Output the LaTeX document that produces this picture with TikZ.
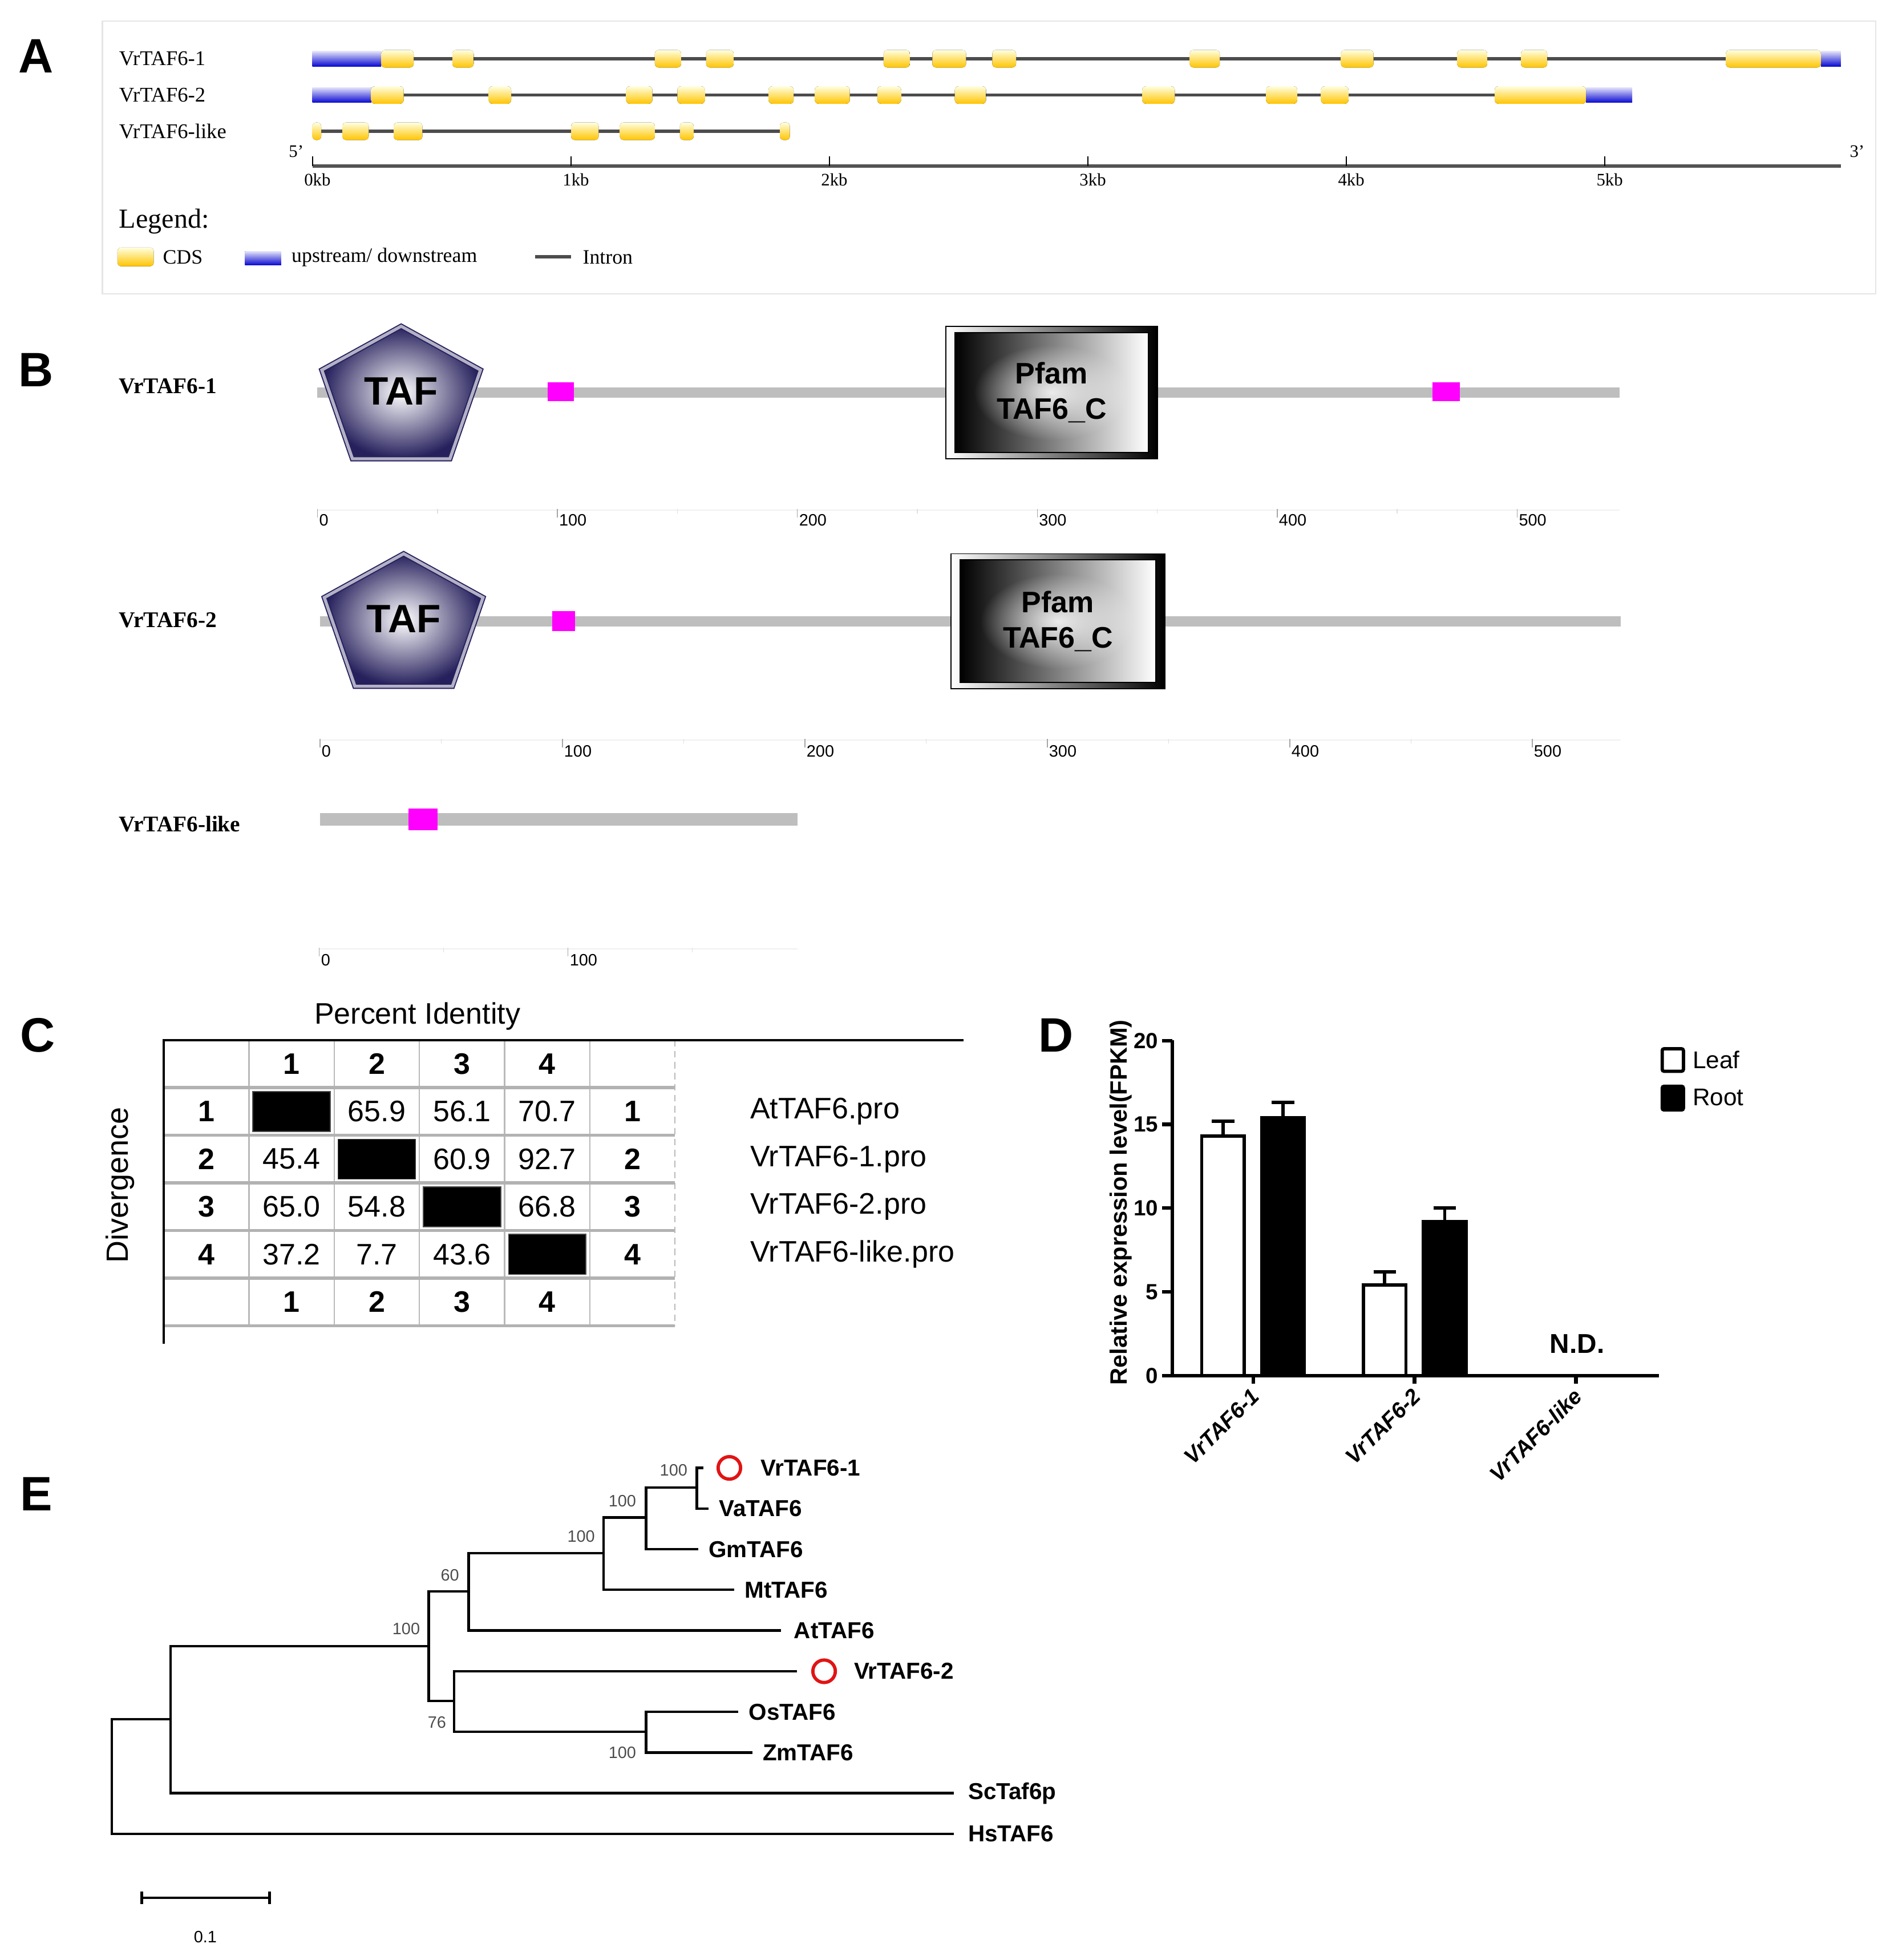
\documentclass[tikz,border=0pt]{standalone}
\usepackage{fontspec}
\setmainfont{Liberation Serif}
\setsansfont{Liberation Sans}
\usetikzlibrary{calc,fadings}
\definecolor{cdsgold}{RGB}{255,196,0}
\definecolor{utrblue}{RGB}{10,10,210}
\definecolor{tafnavy}{RGB}{38,32,92}
\definecolor{motifpink}{RGB}{255,0,255}
\definecolor{protgray}{RGB}{190,190,190}
\definecolor{ringred}{RGB}{225,20,20}
\tikzfading[name=glow, inner color=transparent!15, outer color=transparent!100]

\begin{document}
\begin{tikzpicture}[x=0.2mm, y=-0.2mm,
  panel/.style={inner sep=0pt, font=\sffamily\bfseries\fontsize{22}{22}\selectfont},
  gname/.style={anchor=west, inner sep=0pt, font=\fontsize{9.5}{10}\selectfont},
  kblabel/.style={inner sep=0pt, font=\fontsize{8}{8}\selectfont},
  legtitle/.style={anchor=west, inner sep=0pt, font=\fontsize{12.5}{13}\selectfont},
  legtext/.style={anchor=west, inner sep=0pt, font=\fontsize{9.3}{10}\selectfont},
  intron/.style={draw=gray!60!black, line width=1.4pt},
  cds/.style={rounded corners=0.6mm, top color=yellow!12, bottom color=cdsgold},
  utr/.style={top color=utrblue!12, bottom color=utrblue},
  pname/.style={anchor=west, inner sep=0pt, font=\bfseries\fontsize{10.2}{11}\selectfont},
  protbar/.style={draw=protgray, line width=4.8pt},
  motif/.style={fill=motifpink},
  tafpent/.style={inner color=white, outer color=tafnavy, draw=tafnavy, line width=0.5pt, double=tafnavy!35, double distance=1.4pt},
  tafname/.style={inner sep=0pt, font=\sffamily\bfseries\fontsize{18}{18}\selectfont},
  pfamtext/.style={align=center, inner sep=0pt, font=\sffamily\bfseries\fontsize{13.5}{16.2}\selectfont},
  ruler/.style={draw=gray!12, line width=0.4pt},
  rtick/.style={draw=gray!70, line width=0.4pt},
  mtick/.style={draw=gray!25, line width=0.4pt},
  aalabel/.style={anchor=west, inner sep=0.6pt, font=\sffamily\fontsize{7.5}{8}\selectfont},
  grid/.style={draw=gray!55, line width=0.6pt},
  gridh/.style={draw=gray!60, line width=1.4pt},
  cbold/.style={inner sep=0pt, font=\sffamily\bfseries\fontsize{13.5}{14}\selectfont},
  cnum/.style={inner sep=0pt, font=\sffamily\fontsize{13.5}{14}\selectfont},
  cname/.style={anchor=west, inner sep=0pt, font=\sffamily\fontsize{13.5}{14}\selectfont},
  diag/.style={fill=black, draw=black!70, minimum width=12.4mm, minimum height=6.4mm, inner sep=0pt},
  axis/.style={line width=1.6pt},
  bar/.style={line width=1.5pt},
  ytick/.style={anchor=east, inner sep=0pt, font=\sffamily\bfseries\fontsize{10}{10}\selectfont},
  xlab/.style={anchor=east, rotate=45, inner sep=0pt, font=\sffamily\bfseries\itshape\fontsize{10}{10}\selectfont},
  keytext/.style={anchor=west, inner sep=0pt, font=\sffamily\fontsize{11}{11}\selectfont},
  keybox/.style={line width=1.5pt, rounded corners=0.3mm},
  branch/.style={line width=1.1pt},
  leaf/.style={anchor=west, inner sep=0pt, font=\sffamily\bfseries\fontsize{10.5}{11}\selectfont},
  boot/.style={inner sep=0pt, text=black!70, font=\sffamily\fontsize{7.5}{8}\selectfont},
  redring/.style={circle, draw=ringred, line width=1.5pt, minimum size=3.6mm, inner sep=0pt}]

  \useasboundingbox (0,0) rectangle (1512,1568);

  \newcommand\kbstep{206.8}
  \newcommand\cellw{68.2}
  \newcommand\cellh{38.1}
  \newcommand\val[1]{1100.5-13.4*#1}
  \newcommand\tafbox[3]{% name, x and y of top corner
    \draw[tafpent] (#2,#3) -- (#2+63.5,#3+35) -- (#2+39,#3+106) -- (#2-39,#3+106) -- (#2-63.5,#3+35) -- cycle;
    \node[tafname] (#1) at (#2,#3+52) {TAF};}
  \newcommand\pfambox[5]{% name, left, top, right, bottom
    \draw[line width=0.5pt, left color=white, right color=black] (#2,#3) rectangle (#4,#5);
    \draw[line width=0.5pt, left color=black, right color=white] (#2+7,#3+5) rectangle (#4-7,#5-5);
    \fill[white, path fading=glow] ($(#2,#3)!0.5!(#4,#5)$) ellipse (62 and 38);
    \node[pfamtext] (#1) at ($(#2,#3)!0.5!(#4,#5)$) {Pfam\\TAF6\_C};}

  %% panel letters
  \node[panel] (pA) at (29,45) {A};
  \node[panel] (pB) at (29,296) {B};
  \node[panel] (pC) at (30,828) {C};
  \node[panel] (pD) at (845,828) {D};
  \node[panel] (pE) at (29,1195) {E};

  %% A: gene structures
  \draw[gray!20, line width=0.6pt] (82,17) rectangle (1501,235);
  \node[gname] (g1) at (95,47) {VrTAF6-1};
  \node[gname] (g2) at (95,76) {VrTAF6-2};
  \node[gname] (g3) at (95,105) {VrTAF6-like};
  \draw[intron] (250,47) -- (1473,47);
  \draw[intron] (250,76) -- (1306,76);
  \draw[intron] (250,105) -- (628,105);
  \fill[utr] (250,41) rectangle (305,53);
  \fill[utr] (1457,41) rectangle (1473,53);
  \fill[utr] (250,70) rectangle (297,82);
  \fill[utr] (1269,70) rectangle (1306,82);
  \foreach \a/\b in {305/331,362/379,524/545,565/587,707/728,746/773,794/813,952/976,1073/1099,1166/1190,1217/1238,1381/1457}
    \fill[cds] (\a,40) rectangle (\b,54);
  \foreach \a/\b in {297/323,391/409,501/522,542/564,615/635,652/680,702/721,764/789,914/940,1013/1038,1057/1079,1196/1269}
    \fill[cds] (\a,69) rectangle (\b,83);
  \foreach \a/\b in {250/257,274/295,315/338,457/479,496/524,544/555,624/632}
    \fill[cds] (\a,98) rectangle (\b,112);

  %% kb scale
  \draw[draw=gray!65!black, line width=1.6pt] (250,133) -- (1473,133);
  \foreach \k in {0,...,5} {
    \draw[line width=0.5pt] (250+\kbstep*\k,125) -- (250+\kbstep*\k,133);
    \node[kblabel] (kb\k) at (254+\kbstep*\k,144) {\k kb};
  }
  \node[kblabel] (five) at (237,121) {5'};
  \node[kblabel] (three) at (1486,121) {3'};

  %% legend
  \node[legtitle] (legend) at (95,177) {Legend:};
  \fill[cds] (94,198) rectangle (123,213);
  \node[legtext] (lcds) at (130,206) {CDS};
  \fill[utr] (196,201) rectangle (225,212);
  \node[legtext] (lutr) at (233,206) {upstream/ downstream};
  \draw[intron] (428,205.5) -- (457,205.5);
  \node[legtext] (lint) at (466,206) {Intron};

  %% B: protein domains
  \node[pname] (p1) at (95,309) {VrTAF6-1};
  \draw[protbar] (254,314) -- (1296,314);
  \fill[motif] (438,306) rectangle (459,321);
  \fill[motif] (1146,306) rectangle (1168,321);
  \tafbox{taf1}{321}{261}
  \pfambox{pfam1}{757}{261}{926}{367}
  \draw[ruler] (254,408) -- (1296,408);
  \foreach \v [count=\k from 0] in {0,100,200,300,400,500} {
    \draw[rtick] (254+192*\k,407) -- (254+192*\k,414);
    \node[aalabel] (ra\k) at (254+192*\k,416) {\v};
  }
  \foreach \k in {0,...,4} \draw[mtick] (350+192*\k,407) -- (350+192*\k,411);

  \node[pname] (p2) at (95,496) {VrTAF6-2};
  \draw[protbar] (256,497) -- (1297,497);
  \fill[motif] (442,489) rectangle (460,505);
  \tafbox{taf2}{323}{443}
  \pfambox{pfam2}{761}{443}{932}{551}
  \draw[ruler] (256,592) -- (1297,592);
  \foreach \v [count=\k from 0] in {0,100,200,300,400,500} {
    \draw[rtick] (256+194*\k,591) -- (256+194*\k,598);
    \node[aalabel] (rb\k) at (256+194*\k,601) {\v};
  }
  \foreach \k in {0,...,4} \draw[mtick] (353+194*\k,591) -- (353+194*\k,595);

  \node[pname] (p3) at (95,659) {VrTAF6-like};
  \draw[protbar, line width=5.6pt] (256,655.6) -- (638,655.6);
  \fill[motif] (327,647) rectangle (350,664);
  \draw[ruler] (255.5,759) -- (638,759);
  \foreach \v [count=\k from 0] in {0,100} {
    \draw[rtick] (255.5+199*\k,758) -- (255.5+199*\k,765);
    \node[aalabel] (rc\k) at (255.5+199*\k,768) {\v};
  }
  \foreach \k in {0,1} \draw[mtick] (355+199*\k,758) -- (355+199*\k,762);

  %% C: identity matrix
  \node[cnum] (pid) at (334,813) {Percent Identity};
  \node[cnum, rotate=90, font=\sffamily\fontsize{14}{14}\selectfont] (div) at (96,948) {Divergence};
  \foreach \i in {1,...,5} \draw[grid] (131+\cellw*\i,832) -- (131+\cellw*\i,1061);
  \foreach \j in {1,...,6} \draw[gridh] (131,832+\cellh*\j) -- (540,832+\cellh*\j);
  \draw[grid, densely dashed] (540,832) -- (540,1061);
  \draw[line width=1pt] (771,832) -- (131,832) -- (131,1075);
  \foreach \i in {1,...,4} {
    \node[cbold] (top\i) at (131+\cellw*\i+\cellw/2,851) {\i};
    \node[cbold] (bot\i) at (131+\cellw*\i+\cellw/2,1041.5) {\i};
    \node[cbold] (lft\i) at (131+\cellw/2,832+\cellh*\i+\cellh/2) {\i};
    \node[cbold] (rgt\i) at (131+\cellw*5+\cellw/2,832+\cellh*\i+\cellh/2) {\i};
    \node[diag] (dg\i) at (131+\cellw*\i+\cellw/2,832+\cellh*\i+\cellh/2) {};
  }
  \foreach \r/\c/\v in {1/2/65.9,1/3/56.1,1/4/70.7,2/1/45.4,2/3/60.9,2/4/92.7,3/1/65.0,3/2/54.8,3/4/66.8,4/1/37.2,4/2/7.7,4/3/43.6}
    \node[cnum] (v\r\c) at (131+\cellw*\c+\cellw/2,832+\cellh*\r+\cellh/2) {\v};
  \foreach \n [count=\r] in {AtTAF6.pro,VrTAF6-1.pro,VrTAF6-2.pro,VrTAF6-like.pro}
    \node[cname] (seq\r) at (600,832+\cellh*\r+\cellh/2) {\n};

  %% D: expression bars
  \node[ytick, anchor=center, rotate=90, font=\sffamily\bfseries\fontsize{10.8}{11}\selectfont] (ylab) at (897,962) {Relative expression level(FPKM)};
  \foreach \x/\h/\e/\f in {961.6/14.3/15.2/white,1009.6/15.4/16.3/black,1091/5.4/6.2/white,1139/9.2/10.0/black} {
    \draw[bar, fill=\f] (\x,\val{0}) rectangle (\x+34,\val{\h});
    \draw[bar] (\x+17,\val{\h}) -- (\x+17,\val{\e});
    \draw[bar] (\x+8,\val{\e}) -- (\x+26,\val{\e});
  }
  \draw[axis] (938,832) -- (938,\val{0}) -- (1327.6,\val{0});
  \foreach \v in {0,5,10,15,20} {
    \draw[axis] (930,\val{\v}) -- (938,\val{\v});
    \node[ytick] (yt\v) at (927,\val{\v}) {\v};
  }
  \foreach \x/\n [count=\k] in {1002.7/VrTAF6-1,1131.8/VrTAF6-2,1261/VrTAF6-like} {
    \draw[axis] (\x,\val{0}) -- (\x,1107);
    \node[xlab] (xl\k) at (\x+2,1114) {\n};
  }
  \node[cbold, font=\sffamily\bfseries\fontsize{12.4}{13}\selectfont] (nd) at (1262,1075) {N.D.};
  \draw[keybox] (1330,839) rectangle (1347,857);
  \node[keytext] (leaf) at (1354,848) {Leaf};
  \draw[keybox, fill=black] (1330,869) rectangle (1347,888);
  \node[keytext] (root) at (1354,878) {Root};

  %% E: tree
  \coordinate (n1) at (89.6,1421);
  \coordinate (n2) at (136.6,1375.4);
  \coordinate (n3) at (343,1317);
  \coordinate (n4) at (375,1273);
  \coordinate (n5) at (483,1242.6);
  \coordinate (n6) at (517,1214);
  \coordinate (n7) at (557.6,1190);
  \coordinate (n8) at (363.5,1360.7);
  \coordinate (n9) at (517,1385.5);
  \coordinate (vr1) at (563,1174.3);
  \coordinate (va) at (567,1206.8);
  \coordinate (gm) at (558.7,1239.4);
  \coordinate (mt) at (587.5,1271.9);
  \coordinate (at) at (625,1304.4);
  \coordinate (vr2) at (637.8,1337);
  \coordinate (os) at (590.8,1369.5);
  \coordinate (zm) at (602,1402);
  \coordinate (sc) at (763.4,1434.5);
  \coordinate (hs) at (763.4,1467.1);

  \draw[branch] (n1) |- (n2);  \draw[branch] (n1) |- (hs);
  \draw[branch] (n2) |- (n3);  \draw[branch] (n2) |- (sc);
  \draw[branch] (n3) |- (n4);  \draw[branch] (n3) |- (n8);
  \draw[branch] (n4) |- (n5);  \draw[branch] (n4) |- (at);
  \draw[branch] (n5) |- (n6);  \draw[branch] (n5) |- (mt);
  \draw[branch] (n6) |- (n7);  \draw[branch] (n6) |- (gm);
  \draw[branch] (n7) |- (vr1); \draw[branch] (n7) |- (va);
  \draw[branch] (n8) |- (vr2); \draw[branch] (n8) |- (n9);
  \draw[branch] (n9) |- (os);  \draw[branch] (n9) |- (zm);

  \node[redring] (ring1) at (583.6,1174.3) {};
  \node[redring] (ring2) at (659.4,1337) {};
  \node[leaf] (vr1-l) at (608.5,1174.3) {VrTAF6-1};
  \node[leaf] (vr2-l) at (683,1337) {VrTAF6-2};
  \foreach \c/\n in {va/VaTAF6,gm/GmTAF6,mt/MtTAF6,os/OsTAF6,zm/ZmTAF6}
    \node[leaf] (\c-l) at ($(\c)+(8,0)$) {\n};
  \node[leaf] (at-l) at ($(at)+(10,0)$) {AtTAF6};
  \node[leaf] (sc-l) at ($(sc)+(11,0)$) {ScTaf6p};
  \node[leaf] (hs-l) at ($(hs)+(11,0)$) {HsTAF6};

  \node[boot] (b7) at (539,1176) {100};
  \node[boot] (b6) at (498,1200.7) {100};
  \node[boot] (b5) at (465,1229) {100};
  \node[boot] (b4) at (360,1260) {60};
  \node[boot] (b3) at (325,1303) {100};
  \node[boot] (b8) at (349.6,1378) {76};
  \node[boot] (b9) at (498,1402) {100};

  %% scale bar
  \coordinate (sb1) at (113.4,1518.3);
  \coordinate (sb2) at (215.7,1518.3);
  \draw[branch] (sb1) -- (sb2);
  \draw[branch] ($(sb1)+(0,-5)$) -- ($(sb1)+(0,5)$);
  \draw[branch] ($(sb2)+(0,-5)$) -- ($(sb2)+(0,5)$);
  \node[boot, text=black] (sblab) at (164.3,1549.6) {0.1};
\end{tikzpicture}
\end{document}
